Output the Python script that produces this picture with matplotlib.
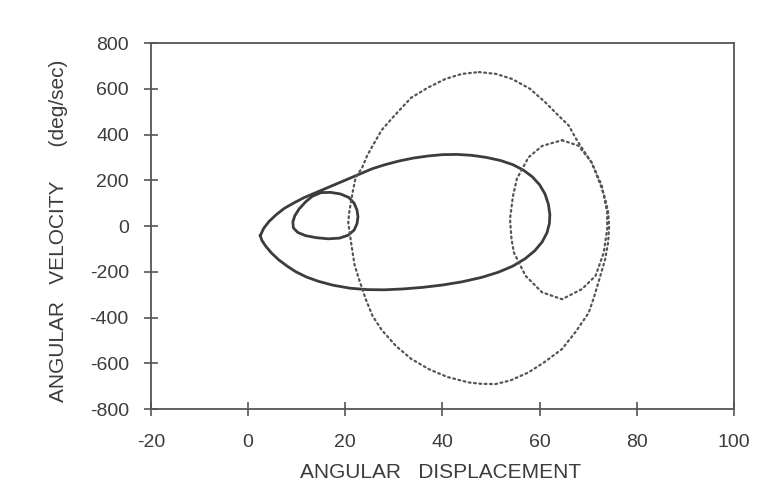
import matplotlib
matplotlib.use("Agg")
import matplotlib.pyplot as plt

plt.rcParams['font.family'] = ['Liberation Sans', 'DejaVu Sans']
plt.rcParams['axes.unicode_minus'] = False

# solid curve: big loop (angular displacement, angular velocity)
big_x = [2.5, 3.2, 4.3, 5.8, 7.5, 9.5, 11.5, 13.5, 15.5, 17.5, 19.5, 21.5, 23.5,
         25.5, 28.0, 31.0, 34.0, 37.0, 40.0, 43.0, 46.0, 49.0, 52.0, 54.5, 56.6,
         58.5, 60.0, 61.1, 61.8, 62.1, 62.0, 61.5, 60.5, 59.0, 57.0, 54.5, 51.5,
         48.0, 44.0, 40.0, 36.0, 32.0, 28.0, 24.5, 21.0, 17.5, 14.5, 12.0, 9.8,
         8.0, 6.3, 4.8, 3.6, 2.8, 2.5]
big_y = [-42, -10, 20, 50, 78, 102, 124, 142, 160, 178, 196, 214, 232,
         250, 267, 284, 297, 306, 312, 313, 309, 300, 286, 268, 245,
         215, 180, 140, 95, 50, 10, -30, -70, -108, -143, -175, -202,
         -225, -244, -258, -268, -275, -279, -278, -272, -259, -242, -223, -200,
         -175, -148, -118, -88, -62, -42]

# solid curve: small loop
small_x = [15.0, 17.0, 19.0, 20.7, 21.8, 22.4, 22.6, 22.4, 21.8, 20.6, 18.8, 16.5,
           14.0, 11.8, 10.2, 9.3, 9.2, 9.6, 10.5, 11.8, 13.2, 15.0]
small_y = [146, 147, 140, 125, 100, 70, 40, 10, -18, -40, -53, -56,
           -51, -42, -28, -8, 18, 45, 75, 105, 130, 146]

# dotted curve: big loop
dot_big_x = [47.5, 51.0, 54.3, 58.0, 61.2, 64.0, 66.0, 67.5, 69.2, 70.7, 71.5, 72.6,
             73.5, 74.1, 74.3, 74.1, 73.5, 72.1, 71.2, 70.1, 67.5, 64.6, 61.0, 57.7,
             54.0, 50.9, 48.0, 45.4, 41.0, 37.2, 33.5, 30.4, 27.5, 25.6, 24.2, 22.8,
             21.9, 21.5, 21.1, 20.6, 20.8, 21.5, 22.1, 23.5, 24.5, 25.6, 27.5, 30.0,
             33.5, 37.0, 40.6, 44.0, 47.5]
dot_big_y = [673, 665, 643, 600, 540, 480, 439, 381, 325, 277, 235, 175,
             118, 60, 0, -70, -144, -246, -310, -379, -460, -538, -595, -640,
             -675, -691, -690, -684, -660, -626, -580, -524, -455, -393, -320, -232,
             -170, -116, -60, 16, 60, 147, 210, 257, 308, 350, 420, 480,
             560, 605, 643, 665, 673]

# dotted curve: small loop
dot_small_x = [64.6, 68.0, 70.7, 72.8, 73.9, 73.9, 73.2, 71.5, 68.7, 64.6, 60.5,
               57.1, 54.7, 54.2, 53.9, 54.5, 55.3, 57.7, 60.5, 64.6]
dot_small_y = [375, 351, 278, 176, 60, -13, -116, -218, -276, -320, -290,
               -218, -116, -57, 31, 130, 206, 300, 350, 375]

x_ticks = [-20, 0, 20, 40, 60, 80, 100]
y_ticks = [-800, -600, -400, -200, 0, 200, 400, 600, 800]

fig = plt.figure(figsize=(7.8, 4.91), dpi=100)
ax = fig.add_axes([0.1936, 0.167, 0.7474, 0.7454])

ink = '#3c3c3c'
ax.plot(big_x, big_y, color=ink, lw=2.0, solid_joinstyle='round')
ax.plot(small_x, small_y, color=ink, lw=2.0, solid_joinstyle='round')
ax.plot(dot_big_x, dot_big_y, color='#555555', lw=1.6, linestyle=(0, (0.8, 1.6)),
        dash_capstyle='round')
ax.plot(dot_small_x, dot_small_y, color='#555555', lw=1.6, linestyle=(0, (0.8, 1.6)),
        dash_capstyle='round')

ax.set_xlim(-20, 100)
ax.set_ylim(-800, 800)
ax.set_xticks(x_ticks)
ax.set_yticks(y_ticks)

for s in ax.spines.values():
    s.set_color('#555555')
    s.set_linewidth(1.3)
ax.tick_params(direction='inout', length=10, width=1.2, color='#555555',
               labelsize=14, labelcolor='#3c3c3c')
ax.tick_params(axis='y', pad=11)
ax.tick_params(axis='x', pad=13)

# axis titles placed by hand to match the spacing of the original
fig.text(441 / 780, 1 - 473 / 491, 'ANGULAR   DISPLACEMENT', fontsize=15,
         color='#3c3c3c', ha='center', va='center')
fig.text(59 / 780, 1 - 231 / 491, 'ANGULAR   VELOCITY      (deg/sec)',
         fontsize=15, color='#3c3c3c', ha='center', va='center', rotation=90)

fig.savefig('out.png', dpi=100)
